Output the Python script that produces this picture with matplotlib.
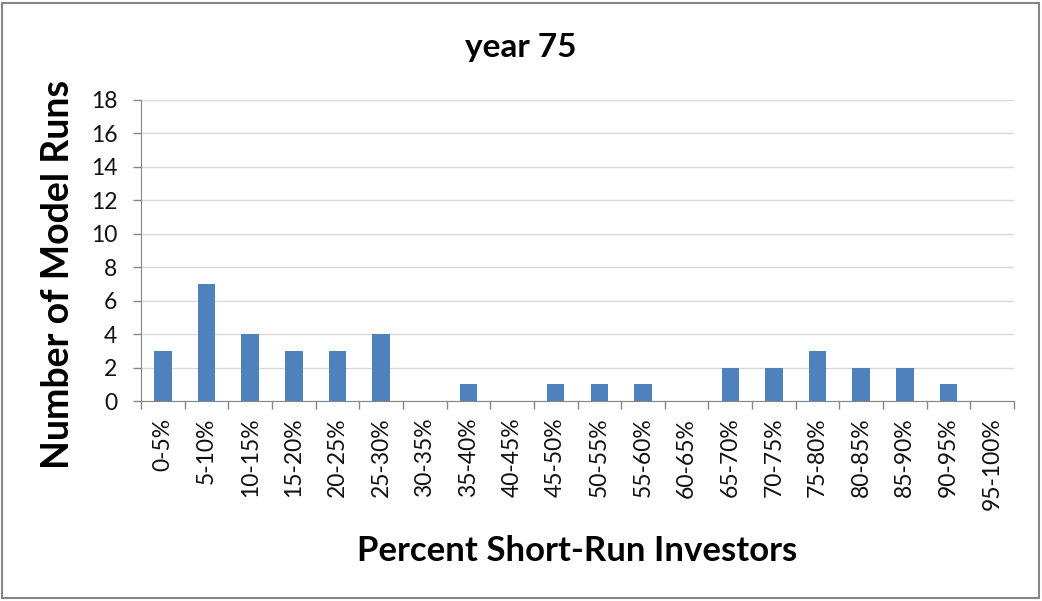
import matplotlib
matplotlib.use("Agg")
import matplotlib.pyplot as plt
import numpy as np
from matplotlib.patches import Rectangle

categories = ["0-5%", "5-10%", "10-15%", "15-20%", "20-25%", "25-30%", "30-35%",
              "35-40%", "40-45%", "45-50%", "50-55%", "55-60%", "60-65%", "65-70%",
              "70-75%", "75-80%", "80-85%", "85-90%", "90-95%", "95-100%"]
runs = [3, 7, 4, 3, 3, 4, 0, 1, 0, 1, 1, 1, 0, 2, 2, 3, 2, 2, 1, 0]
y_ticks = [0, 2, 4, 6, 8, 10, 12, 14, 16, 18]

plt.rcParams["font.family"] = ["Lato", "DejaVu Sans"]

fig = plt.figure(figsize=(10.42, 6.01), dpi=100)
ax = fig.add_axes([141 / 1042, 1 - 401 / 601, (1014 - 141) / 1042, (401 - 100) / 601])

x = np.arange(len(categories))
ax.bar(x, runs, width=0.4, color="#4F81BD", zorder=3)

ax.set_xlim(-0.5, len(categories) - 0.5)
ax.set_ylim(0, 18)
ax.set_yticks(y_ticks)
ax.set_yticklabels([str(v) for v in y_ticks], fontsize=16.5, color="#111111")
ax.yaxis.grid(True, color="#D9D9D9", linewidth=1, zorder=0)

ax.set_xticks(np.arange(len(categories) + 1) - 0.5)
ax.set_xticklabels([])
ax.set_xticks(x, minor=True)
ax.set_xticklabels(categories, minor=True, rotation=90, fontsize=16.5, color="#111111",
                   va="top")
ax.tick_params(axis="x", which="major", length=6, color="#868686", width=1)
ax.tick_params(axis="x", which="minor", length=0, pad=12)
ax.tick_params(axis="y", length=6, color="#868686", width=1, pad=11)

for side in ["top", "right"]:
    ax.spines[side].set_visible(False)
for side in ["left", "bottom"]:
    ax.spines[side].set_color("#868686")

ax.set_ylabel("Number of Model Runs", fontsize=27, fontweight="bold")
ax.yaxis.set_label_coords(-0.076, 0.42)
ax.set_xlabel("Percent Short-Run Investors", fontsize=25, fontweight="bold", labelpad=18)
fig.text(0.5, 1 - 47 / 601, "year 75", ha="center", va="center", fontsize=24,
         fontweight="bold")

fig.patches.append(Rectangle((2 / 1042, 3 / 601), 1037 / 1042, 595 / 601,
                             transform=fig.transFigure, fill=False,
                             edgecolor="#868686", linewidth=1.5))

fig.savefig("out.png", dpi=100)
